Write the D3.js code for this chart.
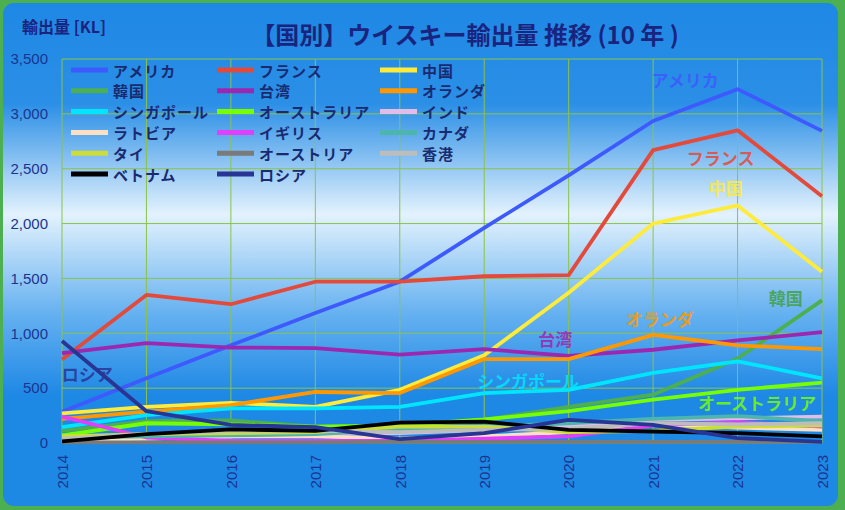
<!DOCTYPE html>
<html>
<head>
<meta charset="utf-8">
<script src="https://cdn.jsdelivr.net/npm/d3@7"></script>
<style>
html,body{margin:0;padding:0;background:#4caf50;}
svg{display:block;}
</style>
</head>
<body>
<svg id="chart" width="845" height="510"></svg>
<script>
const years = [2014, 2015, 2016, 2017, 2018, 2019, 2020, 2021, 2022, 2023];
const yTicks = [0, 500, 1000, 1500, 2000, 2500, 3000, 3500];

const names = ["アメリカ", "フランス", "中国", "韓国", "台湾", "オランダ", "シンガポール", "オーストラリア", "インド", "ラトビア", "イギリス", "カナダ", "タイ", "オーストリア", "香港", "ベトナム", "ロシア"];
const colors = ["#3d5afe", "#e34a3c", "#ffeb3b", "#4caf50", "#9c27b0", "#ff9800", "#00e5ff", "#76ff03", "#e1bee7", "#ffe0c2", "#e040fb", "#4db6ac", "#cddc39", "#7a7a7a", "#bdbdbd", "#000000", "#283593"];

const america     = [285, 590, 890, 1185, 1470, 1960, 2440, 2935, 3225, 2845];
const france      = [760, 1350, 1265, 1470, 1470, 1520, 1530, 2670, 2850, 2250];
const china       = [270, 330, 365, 330, 485, 800, 1370, 2000, 2165, 1560];
const korea       = [110, 200, 205, 150, 150, 210, 330, 440, 770, 1300];
const taiwan      = [820, 910, 870, 865, 805, 855, 795, 850, 935, 1010];
const netherlands = [220, 285, 345, 465, 455, 765, 765, 985, 890, 855];
const singapore   = [145, 255, 315, 315, 330, 455, 485, 640, 745, 590];
const australia   = [70, 180, 170, 150, 160, 215, 290, 395, 485, 550];
const india       = [30, 40, 60, 80, 90, 120, 150, 210, 225, 240];
const latvia      = [20, 40, 60, 60, 40, 60, 100, 170, 140, 120];
const uk          = [240, 50, 20, 20, 20, 40, 60, 160, 190, 150];
const canada      = [50, 60, 70, 80, 120, 150, 180, 220, 245, 200];
const thailand    = [60, 80, 90, 100, 150, 150, 100, 110, 150, 160];
const austria     = [5, 5, 5, 5, 10, 10, 10, 10, 10, 10];
const hongkong    = [40, 80, 110, 110, 100, 120, 130, 180, 170, 180];
const vietnam     = [15, 80, 125, 110, 185, 195, 120, 105, 90, 60];
const russia      = [930, 290, 165, 145, 35, 90, 210, 165, 45, 10];

const seriesValues = [america, france, china, korea, taiwan, netherlands, singapore, australia, india, latvia, uk, canada, thailand, austria, hongkong, vietnam, russia];

// annotations: text, year position, value position, colour
const annoText  = ["アメリカ", "フランス", "中国", "韓国", "オランダ", "台湾", "シンガポール", "オーストラリア", "ロシア"];
const annoYear  = [2021.38, 2021.80, 2021.86, 2022.57, 2021.08, 2019.84, 2019.52, 2022.23, 2014.30];
const annoValue = [3309, 2598, 2325, 1322, 1139, 957, 574, 365, 629];
const annoColor = ["#3d5afe", "#e34a3c", "#ffeb3b", "#43a047", "#ff9800", "#9c27b0", "#00e5ff", "#76ff03", "#283593"];

const svg = d3.select("#chart");
const defs = svg.append("defs");
const grad = defs.append("linearGradient").attr("id", "bg").attr("x1", 0).attr("y1", 0).attr("x2", 0).attr("y2", 1);
[[0, "#1e88e5"], [0.2, "#2b8fe6"], [0.42, "#e3f2fd"], [0.62, "#64b0f0"], [0.78, "#1e88e5"], [1, "#1e88e5"]]
  .forEach(([o, c]) => grad.append("stop").attr("offset", o).attr("stop-color", c));

svg.append("rect").attr("x", 0).attr("y", 0).attr("width", 845).attr("height", 510).attr("fill", "#4caf50");
svg.append("rect").attr("x", 3).attr("y", 3).attr("width", 835).attr("height", 503).attr("rx", 11).attr("fill", "url(#bg)");

const x = d3.scaleLinear().domain([2014, 2023]).range([62, 822]);
const y = d3.scaleLinear().domain([0, 3500]).range([443, 59]);

const navy = "#1a3590";
const cjk = "'Noto Sans CJK JP', 'Noto Sans', sans-serif";

// grid
svg.append("g").selectAll("line").data(yTicks).join("line")
  .attr("x1", x(2014)).attr("x2", x(2023))
  .attr("y1", d => y(d)).attr("y2", d => y(d))
  .attr("stroke", "#8bc34a").attr("stroke-width", 1);
svg.append("g").selectAll("line").data(years).join("line")
  .attr("x1", d => x(d)).attr("x2", d => x(d))
  .attr("y1", y(3500)).attr("y2", y(0))
  .attr("stroke", "#8bc34a").attr("stroke-width", 1);

// axes
const yAxis = svg.append("g").attr("transform", `translate(${x(2014)},0)`)
  .call(d3.axisLeft(y).tickValues(yTicks).tickFormat(d3.format(",")).tickSize(0).tickPadding(14));
yAxis.select(".domain").remove();
yAxis.selectAll("text").attr("font-family", "'Liberation Sans', Arial, sans-serif").attr("font-size", 15).attr("fill", navy);

const xAxis = svg.append("g").attr("transform", `translate(0,${y(0)})`)
  .call(d3.axisBottom(x).tickValues(years).tickFormat(d3.format("d")).tickSize(0));
xAxis.select(".domain").remove();
xAxis.selectAll("text")
  .attr("font-family", "'Liberation Sans', Arial, sans-serif").attr("font-size", 15).attr("fill", navy)
  .attr("transform", "rotate(-90)")
  .attr("text-anchor", "end").attr("x", -12).attr("y", 0).attr("dy", "0.35em");

// lines
const line = d3.line().x((d, i) => x(years[i])).y(d => y(d));
svg.append("g").selectAll("path").data(seriesValues).join("path")
  .attr("d", d => line(d))
  .attr("fill", "none")
  .attr("stroke", (d, i) => colors[i])
  .attr("stroke-width", 3.8)
  .attr("stroke-linejoin", "round");

// annotations
svg.append("g").selectAll("text").data(annoText).join("text")
  .attr("x", (d, i) => x(annoYear[i]))
  .attr("y", (d, i) => y(annoValue[i]))
  .attr("text-anchor", "middle").attr("dominant-baseline", "central")
  .attr("font-family", cjk).attr("font-size", 17).attr("font-weight", "bold")
  .attr("fill", (d, i) => annoColor[i]).attr("fill-opacity", 0.85)
  .text(d => d);

// legend
const colX = [71, 217, 380];
const leg = svg.append("g").selectAll("g").data(names).join("g")
  .attr("transform", (d, i) => `translate(${colX[i % 3]},${70 + Math.floor(i / 3) * 20.8})`);
leg.append("line").attr("x1", 0).attr("x2", 37).attr("y1", 0).attr("y2", 0)
  .attr("stroke", (d, i) => colors[i]).attr("stroke-width", 5);
leg.append("text").attr("x", 42).attr("y", 0).attr("dominant-baseline", "central")
  .attr("font-family", cjk).attr("font-size", 15).attr("letter-spacing", 1).attr("font-weight", "bold").attr("fill", "#1a2a70")
  .text(d => d);

// titles
svg.append("text").attr("x", 465).attr("y", 33).attr("text-anchor", "middle").attr("dominant-baseline", "central")
  .attr("font-family", cjk).attr("font-size", 24).attr("font-weight", "bold").attr("fill", "#1a237e")
  .text("【国別】ウイスキー輸出量 推移 (10 年 )");
svg.append("text").attr("x", 22).attr("y", 26).attr("dominant-baseline", "central")
  .attr("font-family", cjk).attr("font-size", 16).attr("font-weight", "bold").attr("fill", "#1a237e")
  .text("輸出量 [KL]");
</script>
</body>
</html>
